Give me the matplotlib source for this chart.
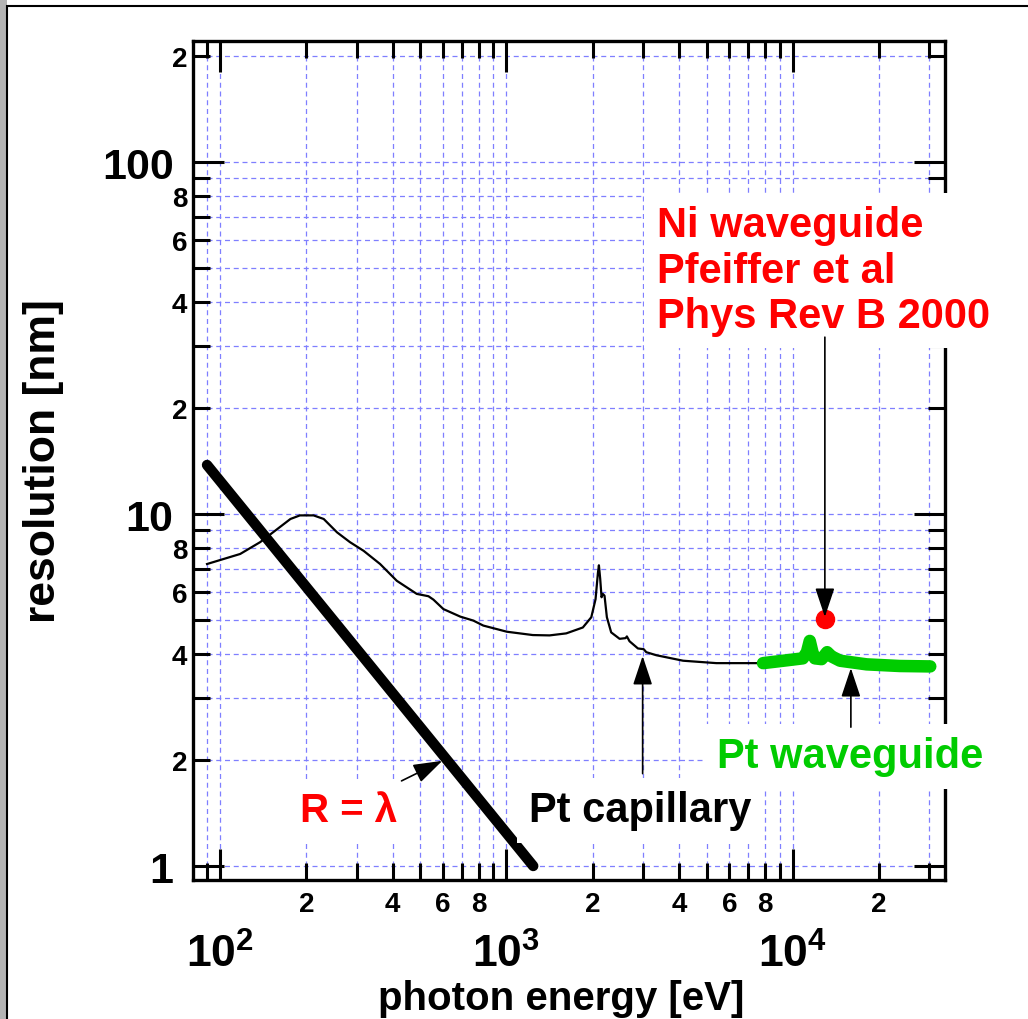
import numpy as np
import matplotlib
matplotlib.use('Agg')
import matplotlib.pyplot as plt
from matplotlib.ticker import FixedLocator, FixedFormatter
from matplotlib.patches import Rectangle

plt.rcParams['font.family'] = ['Liberation Sans', 'DejaVu Sans']
plt.rcParams['font.weight'] = 'bold'
plt.rcParams['mathtext.fontset'] = 'custom'
plt.rcParams['mathtext.rm'] = 'Liberation Sans:bold'
plt.rcParams['mathtext.bf'] = 'Liberation Sans:bold'
plt.rcParams['mathtext.it'] = 'Liberation Sans:bold'

# R = lambda line (eV, nm)
lam_energy = [90, 1240]
lam_res = [13.78, 1.0]

# Pt capillary
cap_energy = [90, 117.5, 138, 158, 176, 190, 212, 230, 256, 284, 317, 362, 414,
              486, 534, 556, 602, 690, 766, 830, 1003, 1236, 1414, 1617, 1848,
              1978, 2047, 2087, 2103, 2125, 2148, 2170, 2200, 2242, 2321, 2484,
              2606, 2633, 2690, 2878, 3015, 3078, 3337, 4138, 5408, 7672, 7900]
cap_res = [7.21, 7.70, 8.32, 9.05, 9.68, 9.91, 9.91, 9.68, 8.87, 8.32, 7.86, 7.21,
           6.46, 5.93, 5.84, 5.71, 5.37, 5.11, 4.98, 4.82, 4.63, 4.53, 4.52, 4.58,
           4.76, 5.09, 5.73, 6.82, 7.15, 6.54, 5.80, 5.93, 5.86, 5.09, 4.61, 4.42,
           4.44, 4.49, 4.35, 4.15, 4.13, 4.05, 3.97, 3.83, 3.77, 3.77, 3.77]

# Pt waveguide
wg_energy = [7870, 9268, 10840, 11200, 11460, 11710, 11940, 12600, 13180, 13650,
             14620, 18100, 23620, 30200]
wg_res = [3.77, 3.83, 3.89, 4.05, 4.36, 4.05, 3.89, 3.87, 4.05, 3.94, 3.83, 3.74,
          3.70, 3.69]

# Ni waveguide point
ni_energy = [12940]
ni_res = [5.03]

x_major = [100, 1000, 10000]
x_major_labels = [r'$10^{2}$', r'$10^{3}$', r'$10^{4}$']
x_minor = [90, 200, 300, 400, 500, 600, 700, 800, 900,
           2000, 3000, 4000, 5000, 6000, 7000, 8000, 9000, 20000, 30000]
y_major = [1, 10, 100]
y_major_labels = ['1', '10', '100']
y_minor = [2, 3, 4, 5, 6, 7, 8, 9, 20, 30, 40, 50, 60, 70, 80, 90, 200]


def minor_label(v):
    d = int(round(v / 10 ** np.floor(np.log10(v))))
    return str(d) if d in (2, 4, 6, 8) else ''


fig = plt.figure(figsize=(10.28, 10.20), dpi=100)
ax = fig.add_axes([193 / 1028, 1 - 881 / 1020, 752 / 1028, 839 / 1020])
ax.set_xscale('log')
ax.set_yscale('log')
ax.set_xlim(80.4, 34000)
ax.set_ylim(0.9125, 220.7)

# grid limited to the tick range
grid_kw = dict(color='#7f7fff', lw=0.9, linestyles=(0, (4, 3)), zorder=0.5)
ax.vlines(x_minor + x_major, 1, 200, **grid_kw)
ax.hlines(y_minor + y_major, 90, 30000, **grid_kw)

ax.plot(lam_energy, lam_res, color='black', lw=7.5, solid_capstyle='round', zorder=3)
ax.plot(cap_energy, cap_res, color='black', lw=1.6, zorder=3)
ax.plot(wg_energy, wg_res, color='#00cc00', lw=9, solid_capstyle='round',
        solid_joinstyle='round', zorder=3)
ax.plot(ni_energy, ni_res, 'o', color='#ff0000', ms=13, zorder=4)

ax.xaxis.set_major_locator(FixedLocator(x_major))
ax.xaxis.set_major_formatter(FixedFormatter(x_major_labels))
ax.xaxis.set_minor_locator(FixedLocator(x_minor))
ax.xaxis.set_minor_formatter(FixedFormatter([minor_label(v) for v in x_minor]))
ax.yaxis.set_major_locator(FixedLocator(y_major))
ax.yaxis.set_major_formatter(FixedFormatter(y_major_labels))
ax.yaxis.set_minor_locator(FixedLocator(y_minor))
ax.yaxis.set_minor_formatter(FixedFormatter([minor_label(v) for v in y_minor]))

ax.tick_params(which='both', direction='in', top=True, right=True, width=2.2)
ax.tick_params(which='major', length=22)
ax.tick_params(which='minor', length=12)
ax.tick_params(axis='x', which='major', labelsize=32, pad=38)
ax.tick_params(axis='x', which='minor', labelsize=20, pad=8)
ax.tick_params(axis='y', which='major', labelsize=31, pad=14)
ax.tick_params(axis='y', which='minor', labelsize=20, pad=4)
for s in ax.spines.values():
    s.set_linewidth(2.4)

ax.set_xlabel('photon energy [eV]', fontsize=29, fontweight='bold')
ax.set_ylabel('resolution [nm]', fontsize=32, fontweight='bold')
ax.xaxis.set_label_coords(0.489, -0.118)
ax.yaxis.set_label_coords(-0.172, 0.5)

arrow_kw = dict(arrowstyle='-|>,head_length=0.45,head_width=0.15', color='black',
                lw=1.2, mutation_scale=40, shrinkA=0, shrinkB=0)
box = dict(facecolor='white', edgecolor='none', pad=9)

ax.text(3346, 34.0, 'Ni waveguide\nPfeiffer et al\nPhys Rev B 2000', color='#ff0000',
        fontsize=30, fontweight='bold', ha='left', va='baseline', linespacing=1.17,
        bbox=box, zorder=5)
ax.annotate('', xy=(12940, 5.1), xytext=(12940, 31.8), arrowprops=arrow_kw, zorder=6)

ax.text(1203, 1.342, 'Pt capillary', color='black', fontsize=30, fontweight='bold',
        ha='left', va='baseline', bbox=box, zorder=5)
ax.annotate('', xy=(2989, 3.95), xytext=(2989, 1.83), arrowprops=arrow_kw, zorder=6)

ax.text(5424, 1.911, 'Pt waveguide', color='#00cc00', fontsize=30, fontweight='bold',
        ha='left', va='baseline', bbox=box, zorder=5)
ax.annotate('', xy=(15950, 3.65), xytext=(15950, 2.48), arrowprops=arrow_kw, zorder=6)

ax.text(190.4, 1.342, 'R = λ', color='#ff0000', fontsize=29, fontweight='bold',
        ha='left', va='baseline', bbox=box, zorder=5)
ax.annotate('', xy=(597, 1.99), xytext=(430, 1.745), arrowprops=arrow_kw, zorder=6)

# page frame and left shading
fig.patches.append(Rectangle((0, 0), 7 / 1028, 1, transform=fig.transFigure,
                             facecolor='#b4b4b4', edgecolor='none', zorder=0))
fig.patches.append(Rectangle((7 / 1028, -0.1), 1.2, 1.1 - 7 / 1020,
                             transform=fig.transFigure, fill=False, lw=1.5,
                             edgecolor='black', zorder=10))

fig.savefig('out.png', dpi=100)
